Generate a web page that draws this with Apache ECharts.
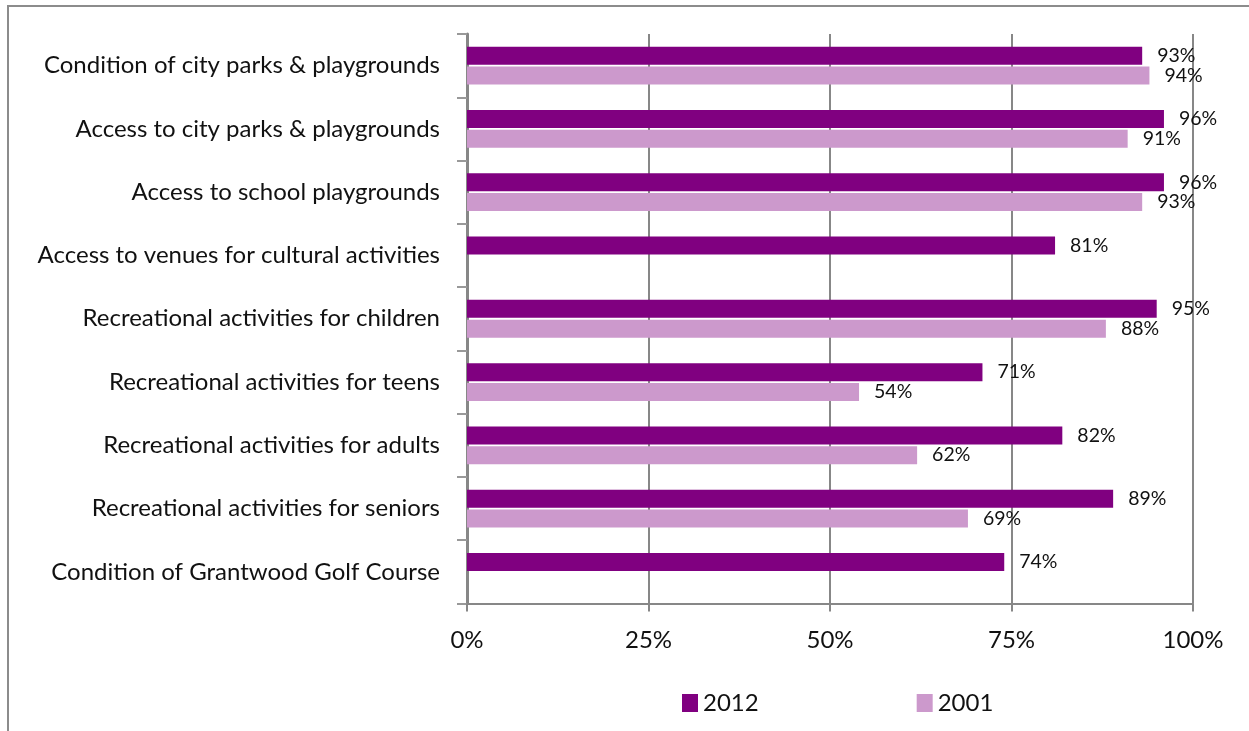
<!DOCTYPE html>
<html>
<head>
<meta charset="utf-8">
<script src="https://cdn.jsdelivr.net/npm/echarts@6/dist/echarts.min.js"></script>
<style>
  html, body { margin: 0; padding: 0; background: #fff; }
  #chart { width: 1249px; height: 731px; }
</style>
</head>
<body>
<div id="chart"></div>
<script>
// Satisfaction with parks & recreation, share of respondents (%)
const categories = [
  'Condition of city parks & playgrounds',
  'Access to city parks & playgrounds',
  'Access to school playgrounds',
  'Access to venues for cultural activities',
  'Recreational activities for children',
  'Recreational activities for teens',
  'Recreational activities for adults',
  'Recreational activities for seniors',
  'Condition of Grantwood Golf Course'
];
const values2012 = [93, 96, 96, 81, 95, 71, 82, 89, 74];
const values2001 = [94, 91, 93, null, 88, 54, 62, 69, null];
const xTicks = [0, 25, 50, 75, 100];

const FONT = 'Lato';
const GRID_COLOR = '#878787';

const chart = echarts.init(document.getElementById('chart'));

function barSeries(name, data, color) {
  return {
    name: name,
    type: 'bar',
    data: data,
    barWidth: 18,
    barGap: '10%',
    itemStyle: { color: color },
    label: {
      show: true,
      position: 'right',
      distance: 15,
      padding: [3, 0, 0, 0],
      formatter: p => p.value == null ? '' : p.value + '%',
      fontFamily: FONT,
      fontSize: 19.5,
      color: '#111'
    }
  };
}

chart.setOption({
  animation: false,
  backgroundColor: '#fff',
  graphic: [{
    type: 'rect',
    shape: { x: 8, y: 6, width: 1400, height: 900 },
    style: { fill: 'none', stroke: '#8c8c8c', lineWidth: 2 },
    silent: true
  }],
  legend: {
    left: 677,
    top: 686,
    itemWidth: 16,
    itemHeight: 18,
    itemGap: 158,
    icon: 'rect',
    textStyle: { fontFamily: FONT, fontSize: 24, color: '#111' },
    data: ['2012', '2001']
  },
  grid: { left: 467, right: 56, top: 34, bottom: 127.5 },
  xAxis: {
    type: 'value',
    min: xTicks[0],
    max: xTicks[xTicks.length - 1],
    interval: 25,
    axisLine: { show: true, lineStyle: { color: GRID_COLOR, width: 2 } },
    axisTick: { show: true, length: 8, lineStyle: { color: GRID_COLOR, width: 2 } },
    splitLine: { show: true, lineStyle: { color: GRID_COLOR, width: 2 } },
    axisLabel: {
      formatter: '{value}%',
      margin: 25,
      fontFamily: FONT,
      fontSize: 24,
      color: '#111'
    }
  },
  yAxis: {
    type: 'category',
    inverse: true,
    data: categories,
    axisLine: { show: true, lineStyle: { color: GRID_COLOR, width: 3 } },
    axisTick: { show: true, length: 10, lineStyle: { color: '#999', width: 2 } },
    axisLabel: {
      margin: 27,
      padding: [4, 0, 0, 0],
      fontFamily: FONT,
      fontSize: 24,
      color: '#111'
    }
  },
  series: [
    barSeries('2012', values2012, '#800080'),
    barSeries('2001', values2001, '#cc99cc')
  ]
});
</script>
</body>
</html>
